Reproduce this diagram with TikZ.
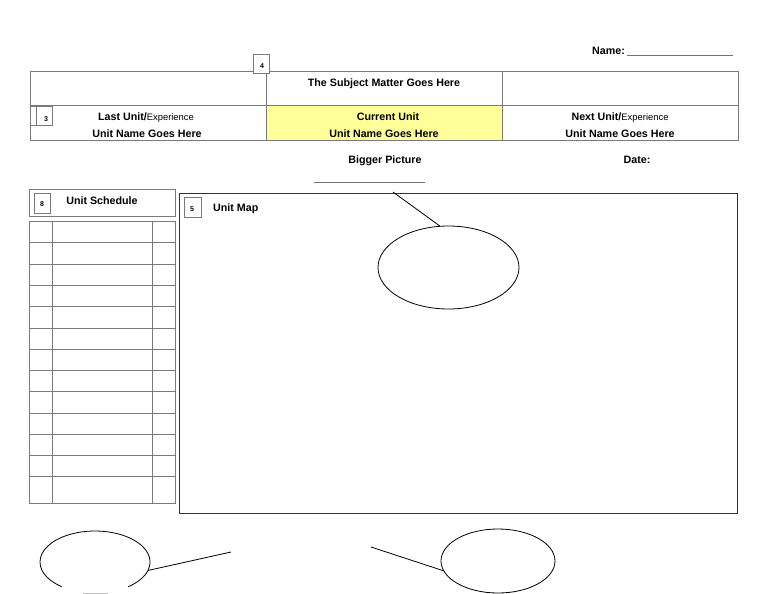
\documentclass[tikz,border=0pt]{standalone}
\usepackage{fontspec}
\setmainfont{Liberation Sans}
\usetikzlibrary{shapes.geometric}
\definecolor{tabgray}{HTML}{7A7A7A}
\definecolor{mapgray}{HTML}{333333}
\definecolor{curyellow}{HTML}{FFFF99}
\newcommand\expfont{\fontsize{9.4}{11}\selectfont\mdseries}
\tikzset{
  txt/.style={inner sep=0pt, text height=7.7pt, text depth=0pt, font=\fontsize{10.7}{12}\selectfont\bfseries},
  numtxt/.style={inner sep=0pt, font=\fontsize{7}{8}\selectfont\bfseries},
  grid/.style={draw=tabgray, line width=0.8pt},
  numbox/.style={draw=tabgray, fill=white, line width=0.8pt},
  bubble/.style={ellipse, draw=black, line width=0.8pt, inner sep=0pt},
  link/.style={draw=black, line width=0.8pt},
  blank/.style={draw=black!55, line width=0.5pt}
}
\begin{document}
\begin{tikzpicture}[x=1pt, y=-1pt]
\useasboundingbox[fill=white] (0,0) rectangle (768,594);

% top table
\fill[curyellow] (266,105) rectangle (502,140);
\draw[grid] (30,71) rectangle (738,140);
\draw[grid] (30,105) -- (738,105);
\draw[grid] (266,71) -- (266,140);
\draw[grid] (502,71) -- (502,140);
\draw[numbox] (253,54) rectangle (269,73);
\node[numtxt] (n4) at (262,66) {4};
\draw[numbox] (30,106) rectangle (52,125);
\draw[grid] (36,106) -- (36,125);
\node[numtxt] (n3) at (46,119) {3};

\node[txt, anchor=west] (name) at (592,51) {Name:};
\coordinate (nameA) at (627,55);
\coordinate (nameB) at (733,55);
\draw[blank] (nameA) -- (nameB);

\node[txt] (subject) at (384,83) {The Subject Matter Goes Here};
\node[txt] (last) at (146,117) {Last Unit/{\expfont Experience}};
\node[txt] (lastname) at (147,134) {Unit Name Goes Here};
\node[txt] (cur) at (388,117) {Current Unit};
\node[txt] (curname) at (384,134) {Unit Name Goes Here};
\node[txt] (next) at (620,117) {Next Unit/{\expfont Experience}};
\node[txt] (nextname) at (620,134) {Unit Name Goes Here};

\node[txt] (bigger) at (385,160) {Bigger Picture};
\coordinate (bigA) at (314,182);
\coordinate (bigB) at (425,182);
\draw[blank] (bigA) -- (bigB);
\node[txt] (date) at (637,160) {Date:};

% unit schedule
\draw[grid] (29,189) rectangle (175,216);
\draw[numbox] (34,193) rectangle (50,213);
\node[numtxt] (n8) at (42,204) {8};
\node[txt] (sched) at (102,201) {Unit Schedule};
\draw[grid] (29,221) rectangle (175,503);
\draw[grid] (52,221) -- (52,503);
\draw[grid] (152,221) -- (152,503);
\foreach \y in {242,264,285,306,328,349,370,391,413,434,455,476}
  \draw[grid] (29,\y) -- (175,\y);

% unit map
\draw[draw=mapgray, line width=0.9pt] (179,193) rectangle (737,513);
\draw[numbox] (184,197) rectangle (201,217);
\node[numtxt] (n5) at (192,209) {5};
\node[txt, anchor=west] (map) at (213,208) {Unit Map};

% bubbles
\node[bubble, minimum width=141pt, minimum height=83pt] (ell1) at (448.5,267.5) {};
\coordinate (c1) at (393,192);
\draw[link] (c1) -- (ell1.102);

\node[ellipse, inner sep=0pt, minimum width=110pt, minimum height=62pt] (ell2) at (95,562) {};
\draw[link] ([shift={(307:55pt and 31pt)}]ell2.center) arc[start angle=307, end angle=593, x radius=55pt, y radius=31pt];
\coordinate (c2) at (231,552);
\draw[link] (c2) -- (ell2.351);
\draw[black!25, line width=1.5pt] (83,593.5) -- (108,593.5);

\node[bubble, minimum width=114pt, minimum height=64pt] (ell3) at (498,561) {};
\coordinate (c3) at (371,547);
\draw[link] (c3) -- (ell3.190);
\end{tikzpicture}
\end{document}
